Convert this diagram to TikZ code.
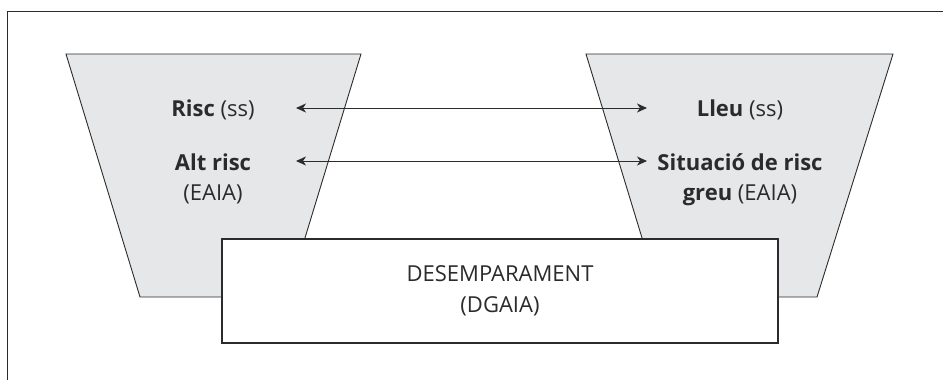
\documentclass[tikz,border=0pt]{standalone}
\usepackage{fontspec}
\setmainfont{Open Sans}
\usetikzlibrary{arrows.meta}
\definecolor{inkc}{HTML}{2B2B2B}
\definecolor{funnel}{HTML}{E6E7E8}
\tikzset{
  frameline/.style={draw=inkc, line width=0.9pt},
  funnelshape/.style={draw=inkc, fill=funnel, line width=0.9pt},
  lbl/.style={text=inkc, align=center, inner sep=0pt, anchor=base, font=\fontsize{22}{30}\selectfont},
  mainbox/.style={draw=inkc, fill=white, line width=2pt, minimum width=556pt, minimum height=104pt,
    text=inkc, align=center, font=\fontsize{22}{31}\selectfont},
  tip/.style={Stealth[length=10pt,width=9pt,inset=3pt]},
  link/.style={draw=inkc, line width=1pt, {Stealth[length=10pt,width=9pt,inset=3pt]}-{Stealth[length=10pt,width=9pt,inset=3pt]}}
}
\begin{document}
\begin{tikzpicture}[x=1pt,y=-1pt]
  \useasboundingbox (0,0) rectangle (943,380);
  % open frame: top and left edges
  \draw[frameline] (7.5,380) -- (7.5,11) -- (943,11);
  % two funnels
  \draw[funnelshape] (66,54) -- (361,54) -- (287,297) -- (140,297) -- cycle;
  \draw[funnelshape] (586,54) -- (893,54) -- (817,297) -- (660,297) -- cycle;
  % labels on the left funnel (base anchor = baseline of the last line)
  \node[lbl] (risc) at (213,116.5) {\textbf{Risc} (ss)};
  \node[lbl] (alt) at (213,200) {\textbf{Alt risc}\\(EAIA)};
  % labels on the right funnel
  \node[lbl] (lleu) at (740,116) {\textbf{Lleu} (ss)};
  \node[lbl] (greu) at (740,200) {\textbf{Situació de risc}\\\textbf{greu} (EAIA)};
  % arrow end points
  \coordinate (a1l) at (296,108);
  \coordinate (a1r) at (647,108);
  \coordinate (a2l) at (296,161);
  \coordinate (a2r) at (647,161);
  \draw[link] (a1l) -- (a1r);
  \draw[link] (a2l) -- (a2r);
  % central box
  \node[mainbox] (desemp) at (500,291) {DESEMPARAMENT\\(DGAIA)};
\end{tikzpicture}
\end{document}
